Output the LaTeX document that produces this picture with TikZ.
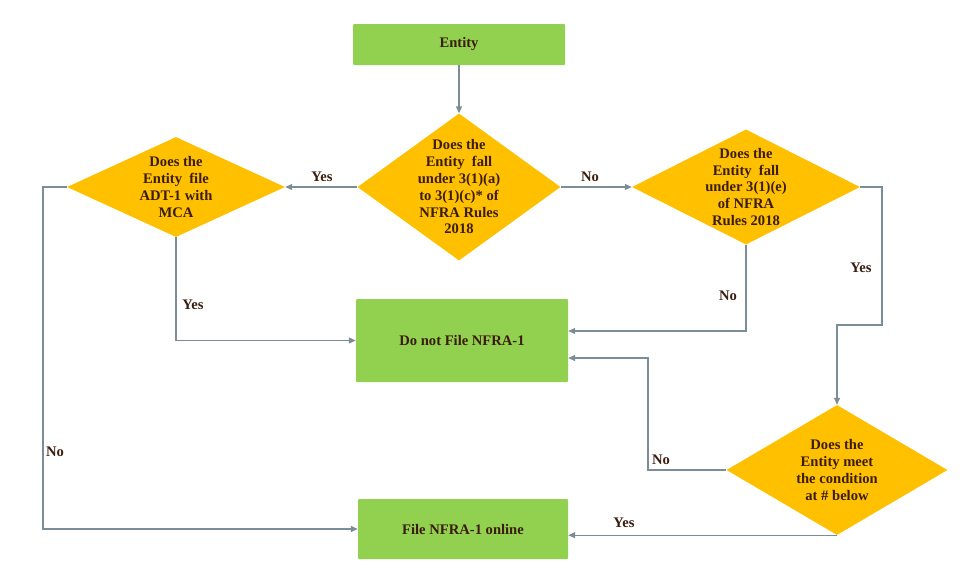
\documentclass[tikz,border=0pt]{standalone}
\usepackage{fontspec}
\setmainfont{Liberation Serif}
\usetikzlibrary{shapes.geometric,arrows.meta}
\definecolor{dyel}{HTML}{FFC000}
\definecolor{dgreen}{HTML}{92D050}
\definecolor{lineC}{HTML}{7D8D98}
\definecolor{dtxt}{HTML}{3A1D0E}
\tikzset{
  dia/.style={diamond, fill=dyel, inner sep=0pt, draw=none},
  box/.style={rectangle, fill=dgreen, rounded corners=1pt, inner sep=0pt},
  lbl/.style={font=\fontsize{14.6}{16.8}\selectfont\bfseries, text=dtxt, align=center, inner sep=1pt},
  conn/.style={draw=lineC, line width=1.2pt, -{Triangle[length=7pt,width=6pt]}},
}
\begin{document}
\begin{tikzpicture}[x=1pt,y=-1pt]
\useasboundingbox[fill=white] (0,0) rectangle (973,581);
% boxes
\node[box, minimum width=212pt, minimum height=41pt] (entity) at (459,44.5) {};
\node[lbl] (tentity) at (entity.center) {Entity};
\node[box, minimum width=212pt, minimum height=83pt] (donot) at (462,340.5) {};
\node[lbl] (tdonot) at (donot.center) {Do not File NFRA-1};
\node[box, minimum width=210pt, minimum height=60pt] (online) at (463,529) {};
\node[lbl] (tonline) at (online.center) {File NFRA-1 online};
% diamonds
\node[dia, minimum width=203pt, minimum height=147pt] (d1) at (459,187) {};
\node[lbl] (t1) at (d1.center) {Does the\\Entity\ \ fall\\under 3(1)(a)\\to 3(1)(c)* of\\NFRA Rules\\2018};
\node[dia, minimum width=218pt, minimum height=100pt] (d2) at (176,187) {};
\node[lbl] (t2) at (d2.center) {Does the\\Entity\ \ file\\ADT-1 with\\MCA};
\node[dia, minimum width=228pt, minimum height=115pt] (d3) at (746,187) {};
\node[lbl] (t3) at (d3.center) {Does the\\Entity\ \ fall\\under 3(1)(e)\\of NFRA\\Rules 2018};
\node[dia, minimum width=221pt, minimum height=130pt] (d4) at (837,470) {};
\node[lbl] (t4) at (d4.center) {Does the\\Entity meet\\the condition\\at \# below};
% coordinates
\coordinate (cl) at (43,187);
\coordinate (cr) at (882,325);
\coordinate (cn) at (648,358);
% connectors
\draw[conn] (entity.south) -- (d1.north);
\draw[conn] (d1.west) -- (d2.east);
\draw[conn] (d1.east) -- (d3.west);
\draw[conn] (d2.south) |- (donot.west);
\draw[conn] (d2.west) -- (cl) |- (online.west);
\draw[conn] (d3.south) |- ([yshift=9.5pt]donot.east);
\draw[conn] (d3.east) -| (cr) -| (d4.north);
\draw[conn] (d4.west) -| (cn) -- (cn -| donot.east);
\draw[conn] (d4.south) -- (d4.south -| online.east);
% labels
\node[lbl] (l1) at (322,177) {Yes};
\node[lbl] (l2) at (590,177) {No};
\node[lbl] (l3) at (193,305) {Yes};
\node[lbl] (l4) at (55,452) {No};
\node[lbl] (l5) at (728,296) {No};
\node[lbl] (l6) at (861,268) {Yes};
\node[lbl] (l7) at (661,460) {No};
\node[lbl] (l8) at (624,523) {Yes};
\end{tikzpicture}
\end{document}
